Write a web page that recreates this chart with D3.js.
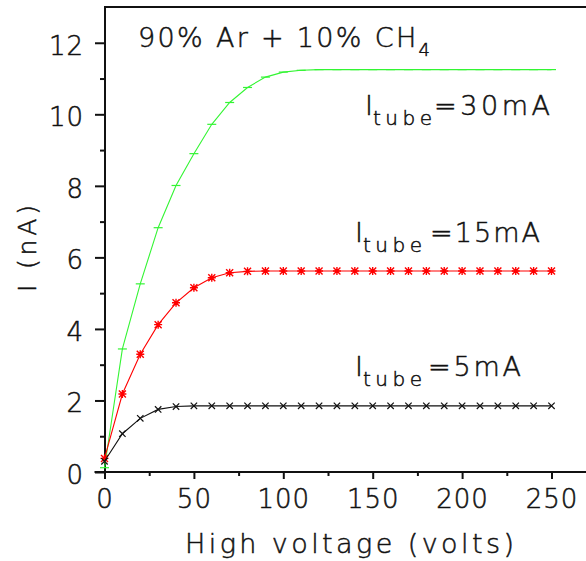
<!DOCTYPE html>
<html>
<head>
<meta charset="utf-8">
<script src="https://cdn.jsdelivr.net/npm/d3@7"></script>
<style>
  html, body { margin: 0; padding: 0; background: #fff; }
  svg { display: block; }
  text { font-family: "DejaVu Sans", sans-serif; font-weight: 200; fill: #111; stroke: #111; stroke-width: 0.5px; }
</style>
</head>
<body>
<svg id="chart" width="586" height="561"></svg>
<script>
// ---- data ----
const voltages = [0,10,20,30,40,50,60,70,80,90,100,110,120,130,140,150,160,170,180,190,200,210,220,230,240,250];
const current5mA  = [0.30,1.07,1.50,1.75,1.83,1.85,1.85,1.85,1.85,1.85,1.85,1.85,1.85,1.85,1.85,1.85,1.85,1.85,1.85,1.85,1.85,1.85,1.85,1.85,1.85,1.85];
const current15mA = [0.38,2.18,3.29,4.12,4.73,5.15,5.43,5.57,5.61,5.62,5.62,5.62,5.62,5.62,5.62,5.62,5.62,5.62,5.62,5.62,5.62,5.62,5.62,5.62,5.62,5.62];
const current30mA = [0.12,3.44,5.26,6.83,8.01,8.90,9.72,10.33,10.75,11.04,11.18,11.23,11.25,11.25,11.25,11.25,11.25,11.25,11.25,11.25,11.25,11.25,11.25,11.25,11.25,11.25];
const xTicks = [0,50,100,150,200,250];
const xMinorTicks = [25,75,125,175,225];
const yTicks = [0,2,4,6,8,10,12];
const yMinorTicks = [1,3,5,7,9,11];
const seriesNames = ["30mA","15mA","5mA"];
const titleMain = "90% Ar + 10% CH";
const titleSub = "4";
const xLabel = "High voltage (volts)";
const yLabel = "I (nA)";

// ---- layout ----
const W = 586, H = 561;
const svg = d3.select("#chart");
const x = d3.scaleLinear().domain([0, 250]).range([104.5, 551.5]);
const y = d3.scaleLinear().domain([0, 13]).range([472, 7]);
const FONT = '"DejaVu Sans", sans-serif';

function fit(sel, target) {
  sel.attr("letter-spacing", 0);
  const node = sel.node();
  const w = node.getComputedTextLength();
  const n = node.textContent.length;
  if (n > 1) sel.attr("letter-spacing", (target - w) / (n - 1));
}

// axes
const gx = svg.append("g").attr("transform", `translate(0,${y(0)})`);
gx.call(d3.axisBottom(x).tickValues(xTicks).tickSize(7).tickPadding(11).tickFormat(d3.format("d")));
gx.select(".domain").remove();
gx.append("g").call(d3.axisBottom(x).tickValues(xMinorTicks).tickSize(4).tickFormat(""))
  .select(".domain").remove();
gx.append("line").attr("x1", x(0) - 10).attr("x2", W).attr("y1", 0).attr("y2", 0)
  .attr("stroke", "#111").attr("stroke-width", 2);
gx.selectAll(".tick line").attr("stroke", "#111").attr("stroke-width", 2);
gx.selectAll(".tick text").attr("font-size", 26).attr("letter-spacing", 1)
  .attr("font-family", FONT).attr("font-weight", 200).attr("fill", "#111");

const axX = 105;
const gy = svg.append("g").attr("transform", `translate(${axX},0)`);
gy.call(d3.axisLeft(y).tickValues(yTicks).tickSize(10).tickPadding(11).tickFormat(d3.format("d")));
gy.select(".domain").remove();
gy.append("g").call(d3.axisLeft(y).tickValues(yMinorTicks).tickSize(5).tickFormat(""))
  .select(".domain").remove();
gy.append("line").attr("x1", 0).attr("x2", 0).attr("y1", y(0) + 1).attr("y2", y(13) - 1)
  .attr("stroke", "#111").attr("stroke-width", 2);
gy.selectAll(".tick line").attr("stroke", "#111").attr("stroke-width", 2);
gy.selectAll(".tick text").attr("font-size", 26).attr("dy", "0.44em").attr("letter-spacing", 1)
  .attr("font-family", FONT).attr("font-weight", 200).attr("fill", "#111");

// top frame
svg.append("line").attr("x1", axX).attr("x2", W).attr("y1", y(13)).attr("y2", y(13))
  .attr("stroke", "#111").attr("stroke-width", 2);

// series
const line = d3.line().x((d, i) => x(voltages[i])).y(d => y(d));
const series = [
  { name: seriesNames[0], values: current30mA, color: "#33f533", marker: "M-4.5,0H4.5" },
  { name: seriesNames[1], values: current15mA, color: "#ff0000", marker: "M-3.5,-3.5L3.5,3.5M-3.5,3.5L3.5,-3.5M0,-4V4M-4,0H4" },
  { name: seriesNames[2], values: current5mA,  color: "#111111", marker: "M-3.2,-3.2L3.2,3.2M-3.2,3.2L3.2,-3.2" }
];
series.forEach(s => {
  svg.append("path").datum(s.values).attr("d", line)
    .attr("fill", "none").attr("stroke", s.color).attr("stroke-width", 1.1);
  svg.append("g").selectAll("path").data(s.values).join("path")
    .attr("transform", (d, i) => `translate(${x(voltages[i])},${y(d)})`)
    .attr("d", s.marker).attr("fill", "none").attr("stroke", s.color)
    .attr("stroke-width", s.name === "15mA" ? 1.4 : 1.2);
});

// title
const t = svg.append("text").attr("x", 138).attr("y", 47).attr("font-size", 27);
t.append("tspan").text(titleMain);
t.append("tspan").attr("font-size", 18).attr("dy", 9).text(titleSub);
fit(t, 292);

// series labels
const labelPos = [
  { x: 365, y: 115, eqX: 434, end: 550 },
  { x: 355, y: 242, eqX: 430, end: 540 },
  { x: 355, y: 376, eqX: 428, end: 521 }
];
seriesNames.forEach((nm, i) => {
  const p = labelPos[i];
  svg.append("text").attr("x", p.x).attr("y", p.y).attr("font-size", 27).text("I");
  const sub = svg.append("text").attr("x", p.x + 8).attr("y", p.y + 10).attr("font-size", 20).text("tube");
  fit(sub, 59);
  const main = svg.append("text").attr("x", p.eqX).attr("y", p.y).attr("font-size", 27).text("=" + nm);
  fit(main, p.end - p.eqX);
});

// axis titles
const xl = svg.append("text").attr("x", 185).attr("y", 553).attr("font-size", 27).text(xLabel);
fit(xl, 329);
const yl = svg.append("text").attr("transform", "translate(36,292) rotate(-90)")
  .attr("font-size", 25).text(yLabel);
fit(yl, 87);
</script>
</body>
</html>
